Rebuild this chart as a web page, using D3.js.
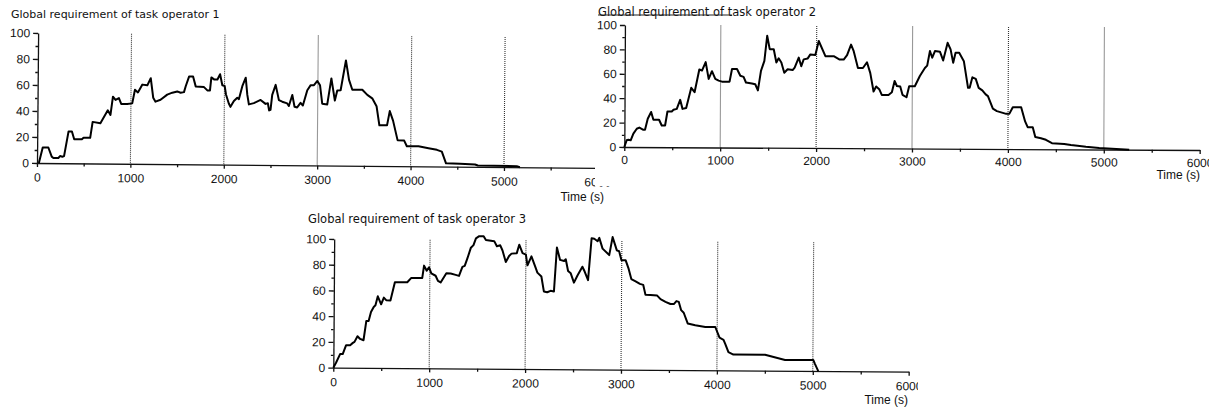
<!DOCTYPE html>
<html>
<head>
<meta charset="utf-8">
<script src="https://cdnjs.cloudflare.com/ajax/libs/d3/7.8.5/d3.min.js"></script>
<style>
  body { margin: 0; background: #fff; }
  svg { display: block; }
  .tick text, .xlabel { font-family: "Liberation Sans", Arial, sans-serif; font-size: 12px; fill: #111; }
  .title { font-family: "DejaVu Sans", sans-serif; fill: #111; }
  .domain, .tick line { stroke: #111; stroke-width: 1.3; }
  .guides line { stroke: #333; stroke-width: 1.1; stroke-dasharray: 1 1; }
  .trace { fill: none; stroke: #000; stroke-width: 2; stroke-linejoin: round; }
</style>
</head>
<body>
<svg id="chart" width="1218" height="407"></svg>
<script>
'use strict';

// task operator 1 (time in s, requirement)
var op1Time = [20, 60, 120, 157, 175, 228, 246, 271, 289, 335, 371, 396, 478, 496, 567, 592, 675, 753, 782, 807,
  835, 871, 896, 960, 1014, 1042, 1074, 1121, 1174, 1210, 1238, 1263, 1317, 1388, 1442, 1495, 1531, 1567, 1585, 1620,
  1663, 1692, 1781, 1817, 1845, 1859, 1888, 1924, 1952, 1977, 2002, 2017, 2048, 2066, 2102, 2138, 2156, 2191, 2227, 2245,
  2263, 2316, 2388, 2441, 2466, 2480, 2495, 2512, 2548, 2584, 2620, 2673, 2691, 2727, 2752, 2780, 2816, 2841, 2887, 2923,
  2958, 2994, 3023, 3048, 3102, 3144, 3183, 3208, 3244, 3298, 3333, 3369, 3476, 3530, 3583, 3630, 3662, 3744, 3772, 3808,
  3858, 3929, 3958, 4083, 4190, 4280, 4333, 4379, 4529, 4690, 4720, 5136, 5170];
var op1Load = [0, 12, 12, 5, 4, 4, 5.5, 5, 5.5, 24.5, 24.5, 18.5, 18.5, 19.7, 19.7, 32, 31, 41, 37.5, 51.5,
  49, 50.5, 46, 46, 46.5, 57, 55, 61, 60.5, 66, 51, 48, 49.5, 53.5, 55, 56, 55, 55.5, 60, 67.5,
  67.5, 60, 59.5, 57, 57, 67, 65.5, 65.5, 69.5, 61, 60.5, 54, 47, 44.5, 49, 51.5, 50.5, 60.5, 67, 54,
  46.5, 47.5, 50, 47, 47.5, 42, 42.5, 54, 61.7, 50, 48.8, 47.5, 45.5, 54, 45, 44.5, 48, 46, 57.8, 61.7,
  61.7, 65, 61.7, 47.5, 47, 67, 50, 57.7, 58, 81, 66, 58.5, 58.5, 54.6, 52, 46, 31.3, 31.3, 42.3, 35,
  20, 19.7, 15.4, 15.4, 14, 12.8, 11.5, 2.5, 2.3, 1.8, 1, 0.8, 0];

// task operator 2
var op2Time = [0, 24, 42, 66, 94, 129, 156, 198, 215, 243, 278, 302, 361, 389, 424, 448, 493, 511, 545, 580,
  605, 643, 695, 730, 778, 806, 844, 876, 910, 945, 980, 1015, 1094, 1119, 1171, 1206, 1240, 1265, 1327, 1362,
  1390, 1421, 1456, 1484, 1511, 1553, 1581, 1605, 1633, 1664, 1699, 1751, 1772, 1814, 1841, 1866, 1908, 1935, 1987, 2022,
  2092, 2179, 2241, 2283, 2318, 2359, 2387, 2432, 2484, 2526, 2561, 2596, 2623, 2655, 2682, 2752, 2787, 2815, 2839, 2874,
  2898, 2940, 2967, 3026, 3078, 3130, 3154, 3182, 3206, 3234, 3286, 3320, 3366, 3397, 3425, 3449, 3487, 3536, 3581, 3598,
  3626, 3661, 3692, 3730, 3765, 3789, 3841, 3883, 3945, 3980, 4014, 4049, 4136, 4178, 4205, 4258, 4285, 4344, 4396, 4459,
  4587, 4657, 4726, 4813, 4952, 5265];
var op2Load = [0, 5.5, 6, 5.5, 11, 15, 16, 14.2, 14.2, 23.3, 28.8, 22.5, 22.5, 17.8, 17.8, 29.3, 29.3, 30.7, 31.5, 38.9,
  31.5, 32.3, 48.8, 45.2, 63.8, 63, 69.9, 56.2, 62.5, 56.2, 54.8, 54, 54, 64.4, 64.4, 58.9, 58, 53.4, 52.6, 52,
  47, 63, 71.2, 91.8, 80.8, 80.8, 69.9, 73.4, 69.9, 61.6, 64.4, 63.8, 65.8, 74, 67, 72.6, 73.4, 76.7, 76.2, 87.7,
  75.3, 75.3, 72.6, 72.6, 76.2, 84.9, 79.5, 65.8, 65.8, 70.5, 61.6, 46.6, 50.7, 48.5, 43.8, 43.8, 46, 55.3, 51.2, 50.7,
  44, 42, 51, 51, 59.5, 66, 68, 80, 74.5, 80, 79.5, 72.3, 86.8, 81.4, 70.4, 78.6, 78.6, 71.8, 50, 50,
  58.6, 57.3, 50, 48, 44.7, 43.3, 33, 31, 29.6, 28.8, 29, 34.2, 34.2, 22.7, 18, 18, 9.9, 9, 7.7, 5,
  4.4, 3.6, 3, 2.2, 1.2, 0];

// task operator 3
var op3Time = [0, 28, 70, 97, 132, 174, 202, 219, 250, 278, 313, 341, 365, 389, 417, 435, 459, 494, 522, 549,
  591, 636, 765, 807, 921, 939, 967, 991, 1015, 1060, 1085, 1113, 1172, 1217, 1269, 1304, 1339, 1363, 1391, 1426,
  1453, 1478, 1512, 1558, 1582, 1669, 1697, 1732, 1756, 1791, 1825, 1850, 1905, 1930, 1965, 2000, 2017, 2058, 2104, 2121,
  2163, 2190, 2225, 2260, 2295, 2323, 2357, 2399, 2416, 2441, 2469, 2503, 2538, 2590, 2615, 2650, 2684, 2712, 2747, 2764,
  2799, 2869, 2903, 2948, 2972, 2997, 3041, 3070, 3101, 3146, 3191, 3226, 3250, 3302, 3372, 3407, 3459, 3511, 3546, 3573,
  3598, 3623, 3650, 3692, 3771, 3876, 3980, 4025, 4067, 4085, 4119, 4171, 4501, 4710, 5005, 5023, 5057];
var op3Load = [0, 3.9, 10.6, 10.6, 17.6, 17.6, 19.4, 20.2, 24.6, 22.5, 21.5, 36.5, 36.5, 43.5, 47.4, 48.7, 55.7, 49.5, 54.7, 52.6,
  52.6, 66.8, 66.8, 70.2, 70.2, 79.8, 75.9, 78.5, 73.8, 72, 68, 66.8, 74, 73.8, 72.8, 72, 79, 79.8, 85.8, 94,
  96, 101.3, 103, 103, 100, 99.2, 95.3, 96, 92, 83, 87.8, 89.6, 90, 96.6, 90, 88.9, 80.6, 87.6, 78.5, 75,
  72, 60.4, 59.8, 60.9, 60.4, 94.6, 85, 84.2, 85.5, 76.4, 74.6, 67.4, 72.8, 79.8, 75.9, 69.4, 102, 101.6, 99.7, 102.3,
  94, 89, 103, 92.7, 92, 85, 85, 79, 70.5, 68.7, 66.8, 66, 58.3, 58.3, 57.8, 55, 53, 51.3, 51.3, 53.6,
  53, 46.6, 44.6, 36.3, 35, 33.7, 33.7, 25.4, 23.8, 20.7, 14.2, 12.4, 12.4, 8.5, 8.5, 5.4, 0];

var xTicks = [0, 1000, 2000, 3000, 4000, 5000, 6000];
var xMinorTicks = [500, 1500, 2500, 3500, 4500, 5500];
var yTicks = [0, 20, 40, 60, 80, 100];
var yMinorTicks = [10, 30, 50, 70, 90];
var guideTimes = [1000, 2000, 3000, 4000, 5000];
var titles = ["Global requirement of task operator 1",
  "Global requirement of task operator 2",
  "Global requirement of task operator 3"];
var timeLabel = "Time (s)";

// where each scanned panel sits on the page (the scan is slightly tilted)
var panels = [
  {left: 37, bottom: 163, width: 560.4, height: 130, tilt: 0.5, pad: 6,
    titleX: 11, titleY: 18.3, titleSize: 11, labelX: 604, labelY: 201},
  {left: 624.3, bottom: 147, width: 575.4, height: 122, tilt: 0.3, pad: 4.5,
    titleX: 598, titleY: 15.5, titleSize: 11.5, labelX: 1200, labelY: 179,
    cover: [595, 0, 623, 186], clipRight: 1209, rule: [598, 732, 15]},
  {left: 333.3, bottom: 367.7, width: 575.4, height: 128.7, tilt: 0.4, pad: 6,
    titleX: 308, titleY: 223.4, titleSize: 11.5, labelX: 908, labelY: 404,
    clipRight: 918}
];
var series = [[op1Time, op1Load], [op2Time, op2Load], [op3Time, op3Load]];

var svg = d3.select("#chart");

panels.forEach(function (p, i) {
  drawPanel(p, series[i][0], series[i][1], titles[i], i);
});

function drawPanel(p, times, loads, title, idx) {
  var root = svg.append("g").attr("class", "panel");

  if (p.clipRight) {
    svg.append("clipPath").attr("id", "clip" + idx)
      .append("rect").attr("x", 0).attr("y", 0).attr("width", p.clipRight).attr("height", 407);
    root.attr("clip-path", "url(#clip" + idx + ")");
  }
  // the second scan is pasted over the first one
  if (p.cover) {
    root.append("rect")
      .attr("x", p.cover[0]).attr("y", p.cover[1])
      .attr("width", p.cover[2]).attr("height", p.cover[3])
      .attr("fill", "#fff");
  }

  var x = d3.scaleLinear().domain([0, 6000]).range([p.left, p.left + p.width]);
  var y = d3.scaleLinear().domain([0, 100]).range([p.bottom, p.bottom - p.height]);

  var plot = root.append("g")
    .attr("transform", "rotate(" + p.tilt + "," + p.left + "," + p.bottom + ")");

  // dotted vertical markers every 1000 s
  plot.append("g").attr("class", "guides")
    .selectAll("line")
    .data(guideTimes)
    .enter().append("line")
    .attr("x1", function (d) { return x(d); })
    .attr("x2", function (d) { return x(d); })
    .attr("y1", y(100))
    .attr("y2", y(0));

  plot.append("g")
    .attr("transform", "translate(0," + p.bottom + ")")
    .call(d3.axisBottom(x).tickValues(xTicks).tickSize(4).tickPadding(p.pad)
      .tickSizeOuter(0).tickFormat(d3.format("d")));
  plot.append("g")
    .attr("transform", "translate(0," + p.bottom + ")")
    .call(d3.axisBottom(x).tickValues(xMinorTicks).tickSize(3).tickSizeOuter(0).tickFormat(""))
    .select(".domain").remove();

  plot.append("g")
    .attr("transform", "translate(" + p.left + ",0)")
    .call(d3.axisLeft(y).tickValues(yTicks).tickSize(5).tickPadding(3).tickSizeOuter(0));
  plot.append("g")
    .attr("transform", "translate(" + p.left + ",0)")
    .call(d3.axisLeft(y).tickValues(yMinorTicks).tickSize(2.5).tickFormat(""))
    .select(".domain").remove();

  var line = d3.line()
    .x(function (d) { return x(d[0]); })
    .y(function (d) { return y(d[1]); });

  plot.append("path")
    .attr("class", "trace")
    .datum(d3.zip(times, loads))
    .attr("d", line);

  root.append("text")
    .attr("class", "title")
    .attr("x", p.titleX)
    .attr("y", p.titleY)
    .style("font-size", p.titleSize + "px")
    .text(title);

  if (p.rule) {
    root.append("line")
      .attr("x1", p.rule[0]).attr("x2", p.rule[1])
      .attr("y1", p.rule[2]).attr("y2", p.rule[2])
      .attr("stroke", "#222").attr("stroke-width", 1);
  }

  root.append("text")
    .attr("class", "xlabel")
    .attr("x", p.labelX)
    .attr("y", p.labelY)
    .attr("text-anchor", "end")
    .text(timeLabel);
}
</script>
</body>
</html>
